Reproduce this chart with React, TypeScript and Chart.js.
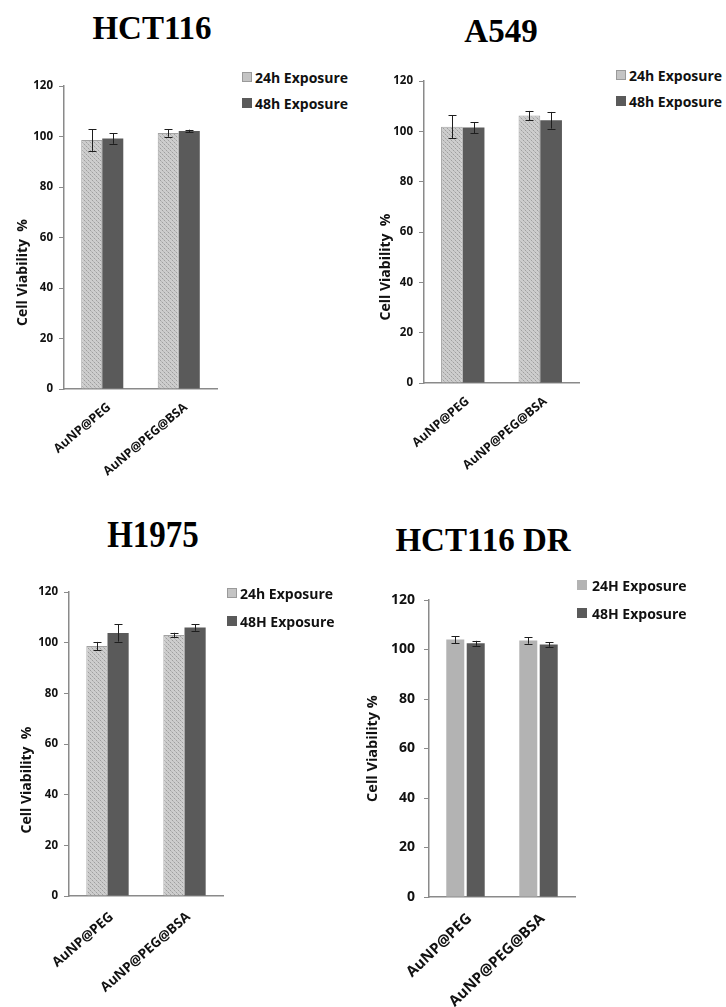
import React, { useEffect, useRef } from "react";
import { Chart, registerables } from "chart.js";

Chart.register(...registerables);

// ---------- data ----------
const categories = ["AuNP@PEG", "AuNP@PEG@BSA"];
const yMin = 0;
const yMax = 120;
const yStep = 20;

const hct116_24h = [98.6, 101.4];
const hct116_24hErr = [4.3, 1.5];
const hct116_48h = [99.2, 102.2];
const hct116_48hErr = [2.1, 0.5];

const a549_24h = [101.8, 106.3];
const a549_24hErr = [4.6, 1.8];
const a549_48h = [101.5, 104.4];
const a549_48hErr = [2.2, 3.3];

const h1975_24h = [98.7, 103.0];
const h1975_24hErr = [1.6, 0.9];
const h1975_48h = [103.8, 106.0];
const h1975_48hErr = [3.4, 1.3];

const hct116dr_24h = [104.0, 103.6];
const hct116dr_24hErr = [1.4, 1.3];
const hct116dr_48h = [102.5, 102.0];
const hct116dr_48hErr = [1.0, 0.9];

const legendLower = ["24h Exposure", "48h Exposure"];
const legendMixed = ["24h Exposure", "48H Exposure"];
const legendUpper = ["24H Exposure", "48H Exposure"];
const yTitleA = "Cell Viability  %";
const yTitleB = "Cell Viability %";

// ---------- styles ----------
const FONT = "'Open Sans', 'DejaVu Sans', sans-serif";
const AXIS = "#8a8a8a";
const DARK = "#5a5a5a";
const LIGHT_FLAT = "#b3b3b3";

function makeTexture(): CanvasPattern | string {
  const c = document.createElement("canvas");
  c.width = 4;
  c.height = 4;
  const g = c.getContext("2d");
  if (!g) return "#c4c4c4";
  g.fillStyle = "#cdcdcd";
  g.fillRect(0, 0, 4, 4);
  g.fillStyle = "#9f9f9f";
  g.fillRect(0, 0, 1, 1);
  g.fillRect(2, 2, 1, 1);
  g.fillStyle = "#b8b8b8";
  g.fillRect(1, 1, 1, 1);
  g.fillRect(3, 3, 1, 1);
  const p = g.createPattern(c, "repeat");
  return p || "#c4c4c4";
}

const errorBarPlugin = {
  id: "errorBars",
  afterDatasetsDraw(chart: any) {
    const ctx = chart.ctx;
    const yScale = chart.scales.y;
    ctx.save();
    ctx.strokeStyle = "#1e1e1e";
    ctx.lineWidth = 1;
    chart.data.datasets.forEach((ds: any, i: number) => {
      const meta = chart.getDatasetMeta(i);
      meta.data.forEach((bar: any, j: number) => {
        const v = ds.data[j];
        const e = ds.errors[j];
        const x = Math.round(bar.x) + 0.5;
        const yt = yScale.getPixelForValue(v + e);
        const yb = yScale.getPixelForValue(v - e);
        const cap = 4;
        ctx.beginPath();
        ctx.moveTo(x, yt);
        ctx.lineTo(x, yb);
        ctx.moveTo(x - cap, Math.round(yt) + 0.5);
        ctx.lineTo(x + cap, Math.round(yt) + 0.5);
        ctx.moveTo(x - cap, Math.round(yb) + 0.5);
        ctx.lineTo(x + cap, Math.round(yb) + 0.5);
        ctx.stroke();
      });
    });
    ctx.restore();
  },
};

const yTitlePlugin = {
  id: "yTitle",
  afterDraw(chart: any, _args: any, opts: any) {
    const { ctx, chartArea } = chart;
    ctx.save();
    ctx.font = `bold ${opts.size}px ${FONT}`;
    ctx.fillStyle = "#111";
    ctx.textAlign = "center";
    ctx.textBaseline = "middle";
    const x = chartArea.left + opts.dx;
    const y = (chartArea.top + chartArea.bottom) / 2 + opts.dy;
    ctx.translate(x, y);
    ctx.rotate(-Math.PI / 2);
    ctx.fillText(opts.text, 0, 0);
    ctx.restore();
  },
};

type PanelCfg = {
  title: string;
  titleCx: number;
  titleTop: number;
  titleScaleY: number;
  canvas: { x: number; y: number; w: number; h: number };
  area: { left: number; right: number; top: number; bottom: number };
  s24: number[];
  e24: number[];
  s48: number[];
  e48: number[];
  legend: string[];
  legendX: number;
  legendY: number[];
  legendGap: number;
  legendSize: number;
  textured: boolean;
  yTitle: string;
  yTitleSize: number;
  yTitleDx: number;
  yTitleDy: number;
  tickSize: number;
  tickPad: number;
  xTickSize: number;
  xTickPad: number;
  xTickShift: number;
  rotation: number;
  catPct: number;
  barPct: number;
};

const panels: PanelCfg[] = [
  {
    title: "HCT116",
    titleCx: 152,
    titleTop: 12,
    titleScaleY: 1.0,
    canvas: { x: 0, y: 60, w: 232, h: 420 },
    area: { left: 64, right: 217, top: 86, bottom: 389 },
    s24: hct116_24h,
    e24: hct116_24hErr,
    s48: hct116_48h,
    e48: hct116_48hErr,
    legend: legendLower,
    legendX: 242,
    legendY: [77, 103],
    legendGap: 3,
    legendSize: 14,
    textured: true,
    yTitle: yTitleA,
    yTitleSize: 14,
    yTitleDx: -41,
    yTitleDy: 35,
    tickSize: 11.5,
    tickPad: 6,
    xTickSize: 12.5,
    xTickPad: 11,
    xTickShift: 7,
    rotation: 40,
    catPct: 0.55,
    barPct: 1,
  },
  {
    title: "A549",
    titleCx: 501,
    titleTop: 15,
    titleScaleY: 1.0,
    canvas: { x: 363, y: 60, w: 232, h: 420 },
    area: { left: 424, right: 579, top: 81, bottom: 383 },
    s24: a549_24h,
    e24: a549_24hErr,
    s48: a549_48h,
    e48: a549_48hErr,
    legend: legendLower,
    legendX: 616,
    legendY: [75, 101],
    legendGap: 3,
    legendSize: 14,
    textured: true,
    yTitle: yTitleA,
    yTitleSize: 14,
    yTitleDx: -38,
    yTitleDy: 35,
    tickSize: 11.5,
    tickPad: 6,
    xTickSize: 12.5,
    xTickPad: 11,
    xTickShift: 5,
    rotation: 40,
    catPct: 0.56,
    barPct: 1,
  },
  {
    title: "H1975",
    titleCx: 153,
    titleTop: 519,
    titleScaleY: 1.12,
    canvas: { x: 0, y: 560, w: 232, h: 447 },
    area: { left: 69, right: 223, top: 592, bottom: 896 },
    s24: h1975_24h,
    e24: h1975_24hErr,
    s48: h1975_48h,
    e48: h1975_48hErr,
    legend: legendMixed,
    legendX: 227,
    legendY: [593, 621],
    legendGap: 3,
    legendSize: 14,
    textured: true,
    yTitle: yTitleA,
    yTitleSize: 14,
    yTitleDx: -42,
    yTitleDy: 36,
    tickSize: 11.5,
    tickPad: 6,
    xTickSize: 13.5,
    xTickPad: 13,
    xTickShift: 4,
    rotation: 41,
    catPct: 0.55,
    barPct: 1,
  },
  {
    title: "HCT116 DR",
    titleCx: 483,
    titleTop: 524,
    titleScaleY: 1.0,
    canvas: { x: 363, y: 560, w: 222, h: 447 },
    area: { left: 429, right: 575, top: 600, bottom: 897 },
    s24: hct116dr_24h,
    e24: hct116dr_24hErr,
    s48: hct116dr_48h,
    e48: hct116dr_48hErr,
    legend: legendUpper,
    legendX: 577,
    legendY: [585, 613],
    legendGap: 5,
    legendSize: 14,
    textured: false,
    yTitle: yTitleB,
    yTitleSize: 14.5,
    yTitleDx: -56,
    yTitleDy: 0,
    tickSize: 14,
    tickPad: 9,
    xTickSize: 15,
    xTickPad: 13,
    xTickShift: 4,
    rotation: 44,
    catPct: 0.56,
    barPct: 0.88,
  },
];

function Panel({ cfg }: { cfg: PanelCfg }) {
  const ref = useRef<HTMLCanvasElement>(null);

  useEffect(() => {
    const canvas = ref.current;
    if (!canvas) return;
    const lightFill = cfg.textured ? makeTexture() : LIGHT_FLAT;
    const yWidth = cfg.area.left - cfg.canvas.x;
    const padTop = cfg.area.top - cfg.canvas.y;
    const padRight = cfg.canvas.x + cfg.canvas.w - cfg.area.right;
    const xHeight = cfg.canvas.y + cfg.canvas.h - cfg.area.bottom;

    const chart = new Chart(canvas, {
      type: "bar",
      data: {
        labels: categories,
        datasets: [
          {
            label: cfg.legend[0],
            data: cfg.s24,
            errors: cfg.e24,
            backgroundColor: lightFill as any,
            borderColor: cfg.textured ? "#a2a2a2" : LIGHT_FLAT,
            borderWidth: cfg.textured ? 1 : 0,
            categoryPercentage: cfg.catPct,
            barPercentage: cfg.barPct,
          } as any,
          {
            label: cfg.legend[1],
            data: cfg.s48,
            errors: cfg.e48,
            backgroundColor: DARK,
            borderWidth: 0,
            categoryPercentage: cfg.catPct,
            barPercentage: cfg.barPct,
          } as any,
        ],
      },
      options: {
        responsive: false,
        animation: false,
        devicePixelRatio: 1,
        layout: { padding: { left: 0, top: padTop, right: padRight, bottom: 0 } },
        plugins: {
          legend: { display: false },
          title: { display: false },
          tooltip: { enabled: false },
          yTitle: {
            text: cfg.yTitle,
            size: cfg.yTitleSize,
            dx: cfg.yTitleDx,
            dy: cfg.yTitleDy,
          },
        } as any,
        scales: {
          x: {
            grid: { display: false, drawTicks: false },
            border: { display: true, color: AXIS, width: 1.5 },
            ticks: {
              autoSkip: false,
              minRotation: cfg.rotation,
              maxRotation: cfg.rotation,
              padding: cfg.xTickPad,
              labelOffset: cfg.xTickShift,
              color: "#111",
              font: { family: FONT, size: cfg.xTickSize, weight: "bold" },
            },
            afterFit: (s: any) => {
              s.height = xHeight;
            },
          },
          y: {
            min: yMin,
            max: yMax,
            grid: {
              display: true,
              drawOnChartArea: false,
              drawTicks: true,
              tickLength: 5,
              color: AXIS,
            },
            border: { display: true, color: AXIS, width: 1.5 },
            ticks: {
              stepSize: yStep,
              padding: cfg.tickPad,
              color: "#111",
              font: { family: FONT, size: cfg.tickSize, weight: "bold" },
            },
            afterFit: (s: any) => {
              s.width = yWidth;
            },
          },
        },
      },
      plugins: [errorBarPlugin, yTitlePlugin],
    } as any);
    return () => chart.destroy();
  }, [cfg]);

  const swatches = [
    cfg.textured
      ? { background: "#c4c4c4", border: "1px solid #9a9a9a" }
      : { background: LIGHT_FLAT, border: "1px solid " + LIGHT_FLAT },
    { background: DARK, border: "1px solid " + DARK },
  ];

  return (
    <>
      <div
        style={{
          position: "absolute",
          left: cfg.titleCx - 150,
          width: 300,
          top: cfg.titleTop,
          textAlign: "center",
          fontFamily: "'Liberation Serif', 'Times New Roman', serif",
          fontWeight: "bold",
          fontSize: 33,
          lineHeight: "33px",
          color: "#000",
          whiteSpace: "nowrap",
          transform: `scaleY(${cfg.titleScaleY})`,
        }}
      >
        {cfg.title}
      </div>
      <canvas
        ref={ref}
        width={cfg.canvas.w}
        height={cfg.canvas.h}
        style={{
          position: "absolute",
          left: cfg.canvas.x,
          top: cfg.canvas.y,
          width: cfg.canvas.w,
          height: cfg.canvas.h,
        }}
      />
      {cfg.legend.map((txt, i) => (
        <div
          key={txt + i}
          style={{
            position: "absolute",
            left: cfg.legendX,
            top: cfg.legendY[i] - 10,
            height: 20,
            display: "flex",
            alignItems: "center",
            whiteSpace: "nowrap",
            fontFamily: FONT,
            fontWeight: "bold",
            fontSize: cfg.legendSize,
            color: "#111",
          }}
        >
          <span
            style={{
              display: "inline-block",
              width: 8,
              height: 8,
              marginRight: cfg.legendGap,
              ...swatches[i],
            }}
          />
          <span>{txt}</span>
        </div>
      ))}
    </>
  );
}

export default function App() {
  return (
    <div
      style={{
        position: "absolute",
        left: 0,
        top: 0,
        width: 726,
        height: 1007,
        background: "#fff",
        overflow: "hidden",
      }}
    >
      {panels.map((p) => (
        <Panel key={p.title} cfg={p} />
      ))}
    </div>
  );
}
